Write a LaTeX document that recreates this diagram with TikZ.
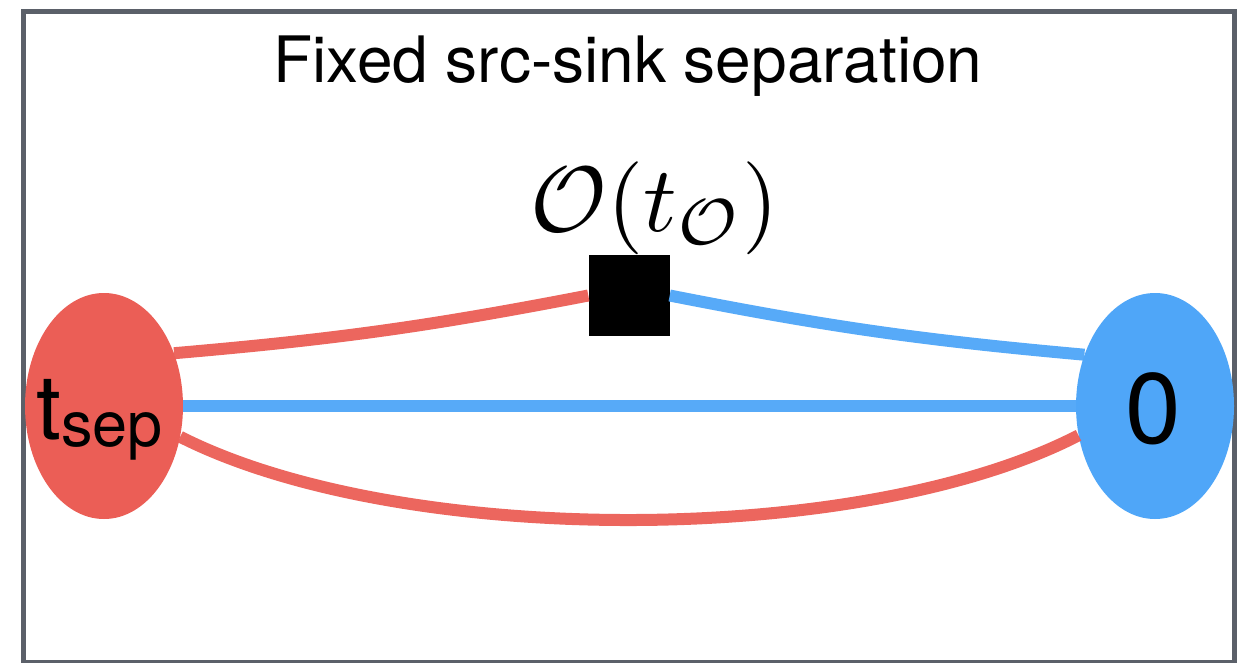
\documentclass[tikz,border=0pt]{standalone}
\usepackage{fontspec}
\setmainfont{TeX Gyre Heros}
\usetikzlibrary{shapes.geometric}
\definecolor{myred}{HTML}{EB5E56}
\definecolor{myblue}{HTML}{4FA6F8}
\definecolor{frame}{HTML}{5B6069}
\tikzset{
  blob/.style={ellipse, minimum width=158pt, minimum height=226pt, inner sep=0pt},
  wire/.style={line width=12pt, opacity=0.95},
  txt/.style={inner sep=0pt, outer sep=0pt}
}
\begin{document}
\begin{tikzpicture}[x=1pt,y=-1pt]
\useasboundingbox (0,0) rectangle (1247,663);
\fill[white] (0,0) rectangle (1247,663);
\draw[frame, line width=5pt] (23.5,11.5) rectangle (1234.5,662.5);
\node[txt, anchor=base] (title) at (628,83) {\fontsize{64}{70}\selectfont Fixed src-sink separation};
\node[blob, fill=myred] (L) at (104,406) {};
\node[blob, fill=myblue] (R) at (1155,406) {};
\node[fill=black, minimum size=81pt, inner sep=0pt] (sq) at (629,295.5) {};
\node[txt, anchor=base] (op) at (655,231) {\scalebox{9.3}{$\mathcal{O}(t_{\mathcal{O}})$}};
\node[txt, anchor=base west] (tsep) at (36,439) {\fontsize{90}{100}\selectfont t\raisebox{-7pt}{\fontsize{63}{70}\selectfont sep}};
\node[txt, anchor=base] (zero) at (1153,443) {\fontsize{100}{110}\selectfont 0};
\draw[wire, myred] (L.37) to[bend right=3] (sq.west);
\draw[wire, myblue] (sq.east) to[bend right=3] (R.144);
\draw[wire, myblue] (L.east) -- (R.west);
\draw[wire, myred] (L.-22) .. controls (400,548) and (860,548) .. (R.201);
\end{tikzpicture}
\end{document}
